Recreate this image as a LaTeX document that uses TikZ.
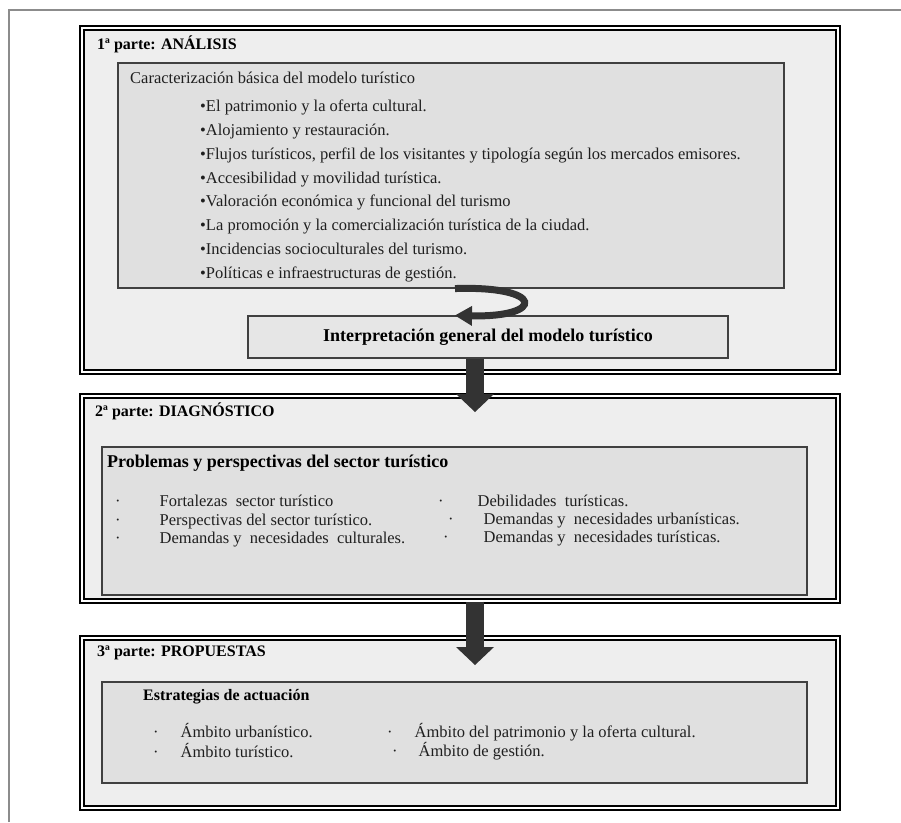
\documentclass[tikz,border=0pt]{standalone}
\usepackage{fontspec}
\setmainfont{Liberation Serif}
\usetikzlibrary{positioning,arrows.meta}

\definecolor{fondo}{HTML}{EEEEEE}
\definecolor{gris}{HTML}{E0E0E0}
\definecolor{flecha}{HTML}{333333}

\tikzset{
  marco/.style={draw=black!45, line width=1.5pt},
  parte/.style={draw, line width=1.3pt, double=white, double distance=2.6pt,
    fill=fondo, minimum width=756pt, inner sep=0pt},
  caja/.style={draw=black!75, line width=1.1pt, fill=gris, inner sep=0pt},
  encab/.style={anchor=west, inner sep=0pt, text height=12pt, text depth=3.5pt,
    font=\bfseries\fontsize{16}{18}\selectfont},
  titulo/.style={anchor=west, inner sep=0pt, text height=12.5pt, text depth=4pt,
    font=\bfseries\fontsize{18}{20}\selectfont},
  item/.style={anchor=west, inner sep=0pt, text height=11pt, text depth=3.5pt,
    text=black!88, font=\fontsize{16.5}{19}\selectfont},
  bloque/.style={draw=flecha, line width=18pt,
    -{Triangle[length=18pt,width=38pt,line width=0pt]}},
  curva/.style={draw=flecha, line width=7pt,
    -{Triangle[length=17pt,width=20pt,line width=0pt]}},
}

\begin{document}
\begin{tikzpicture}[x=1pt,y=-1pt]
	\useasboundingbox (0,0) rectangle (901,822);
	\draw[marco] (9,822) -- (9,10) -- (901,10);

	% 1a parte
	\node[parte, minimum height=344pt] (part1) at (460,200) {};
	\node[caja, minimum width=666pt, minimum height=225pt] (cara) at (451,175.5) {};
	\node[caja, minimum width=480pt, minimum height=42pt, fill=gris!80,
		font=\bfseries\fontsize{18}{20}\selectfont] (interp) at (488,337)
		{Interpretación general del modelo turístico};
	\node[encab] (t1) at (97,45) {1ª parte: ANÁLISIS};
	\node[item] (ct) at (130,80) {Caracterización básica del modelo turístico};
	\node[item] (a1) at (200,108) {•El patrimonio y la oferta cultural.};
	\node[item, below=8.9pt of a1.south west, anchor=north west] (a2) {•Alojamiento y restauración.};
	\node[item, below=8.9pt of a2.south west, anchor=north west] (a3) {•Flujos turísticos, perfil de los visitantes y tipología según los mercados emisores.};
	\node[item, below=8.9pt of a3.south west, anchor=north west] (a4) {•Accesibilidad y movilidad turística.};
	\node[item, below=8.9pt of a4.south west, anchor=north west] (a5) {•Valoración económica y funcional del turismo};
	\node[item, below=8.9pt of a5.south west, anchor=north west] (a6) {•La promoción y la comercialización turística de la ciudad.};
	\node[item, below=8.9pt of a6.south west, anchor=north west] (a7) {•Incidencias socioculturales del turismo.};
	\node[item, below=8.9pt of a7.south west, anchor=north west] (a8) {•Políticas e infraestructuras de gestión.};

	% 2a parte
	\node[parte, minimum height=205pt] (part2) at (460,498.5) {};
	\node[caja, minimum width=705pt, minimum height=148pt] (probl) at (454.5,521) {};
	\node[encab] (t2) at (95,412) {2ª parte: DIAGNÓSTICO};
	\node[titulo] (pt) at (107,463) {Problemas y perspectivas del sector turístico};
	\node[item] (f1) at (115,503) {·\hspace{39pt}Fortalezas~ sector turístico};
	\node[item, below=3.5pt of f1.south west, anchor=north west] (f2) {·\hspace{39pt}Perspectivas del sector turístico.};
	\node[item, below=3.5pt of f2.south west, anchor=north west] (f3) {·\hspace{39pt}Demandas y~ necesidades~ culturales.};
	\node[item] (d1) at (438,503) {·\hspace{34pt}Debilidades~ turísticas.};
	\node[item] (d2) at (448,521) {·\hspace{30pt}Demandas y~ necesidades urbanísticas.};
	\node[item] (d3) at (443,539) {·\hspace{35pt}Demandas y~ necesidades turísticas.};

	% 3a parte
	\node[parte, minimum height=170pt] (part3) at (460,723) {};
	\node[caja, minimum width=705pt, minimum height=101pt] (estrat) at (454.5,732.5) {};
	\node[encab] (t3) at (97,652) {3ª parte: PROPUESTAS};
	\node[encab] (et) at (143,696) {Estrategias de actuación};
	\node[item] (e1) at (153,734) {·\hspace{22pt}Ámbito urbanístico.};
	\node[item, below=4.5pt of e1.south west, anchor=north west] (e2) {·\hspace{22pt}Ámbito turístico.};
	\node[item] (e3) at (387,734) {·\hspace{22pt}Ámbito del patrimonio y la oferta cultural.};
	\node[item] (e4) at (392,753) {·\hspace{21pt}Ámbito de gestión.};

	% flechas
	\coordinate (p1) at (475,412);
	\coordinate (p2) at (475,665);
	\draw[curva] ([xshift=4pt]cara.south) .. controls +(90,-3) and +(90,2) .. ([xshift=-33pt]interp.north);
	\draw[bloque] ([xshift=-13pt]interp.south) -- (p1);
	\draw[bloque] (part2.south -| p2) -- (p2);
\end{tikzpicture}
\end{document}
